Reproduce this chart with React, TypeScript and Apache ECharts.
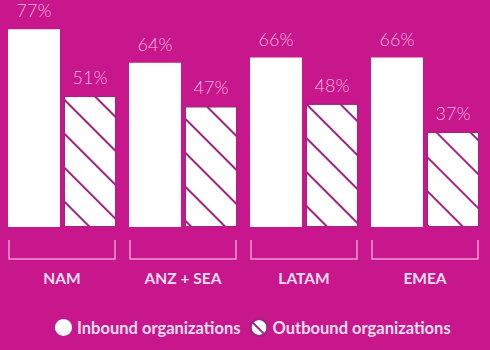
import React, { useEffect, useRef } from "react";
import * as echarts from "echarts";

const categories = ["NAM", "ANZ + SEA", "LATAM", "EMEA"];
const inbound = [77, 64, 66, 66];
const outbound = [51, 47, 48, 37];
const seriesNames = ["Inbound organizations", "Outbound organizations"];

const BG = "#C8168C";
const HATCH = "#A2247E";
const LABEL = "#F6B6DF";
const TEXT = "#FADFF0";

export default function App() {
  const ref = useRef<HTMLDivElement>(null);
  useEffect(() => {
    if (!ref.current) return;
    const chart = echarts.init(ref.current, undefined, { renderer: "svg" });
    const decal = {
      symbol: "rect",
      color: HATCH,
      backgroundColor: "#ffffff",
      dashArrayX: [1, 0],
      dashArrayY: [1.5, 21.5],
      rotation: Math.PI / 4,
      symbolSize: 1,
    };
    const valueLabel = {
      show: true,
      position: "top",
      distance: 10,
      formatter: "{c}%",
      color: LABEL,
      fontFamily: "Lato",
      fontWeight: 300,
      fontSize: 18,
    };
    chart.setOption({
      animation: false,
      backgroundColor: BG,
      grid: { left: 1.5, right: 4.5, top: 1, bottom: 123 },
      legend: {
        data: seriesNames.map((n, i) => ({
          name: n,
          icon: "circle",
          itemStyle: i === 0 ? { color: "#ffffff" } : { color: "#ffffff", decal },
        })),
        bottom: 8,
        left: 50,
        itemWidth: 17,
        itemHeight: 17,
        itemGap: 9,
        textStyle: { color: TEXT, fontFamily: "Lato", fontWeight: "bold", fontSize: 16.5 },
      },
      xAxis: {
        type: "category",
        data: categories,
        axisLine: { show: false },
        axisTick: { show: false },
        axisLabel: {
          color: TEXT,
          fontFamily: "Lato",
          fontWeight: "bold",
          fontSize: 15.5,
          margin: 43,
        },
      },
      yAxis: {
        type: "value",
        min: 0,
        max: 88,
        show: false,
        splitLine: { show: false },
      },
      series: [
        {
          name: seriesNames[0],
          type: "bar",
          data: inbound,
          barWidth: 52,
          barGap: "7.7%",
          itemStyle: { color: "#ffffff" },
          label: valueLabel,
        },
        {
          name: seriesNames[1],
          type: "bar",
          data: outbound,
          barWidth: 52,
          itemStyle: { color: "#ffffff", borderColor: HATCH, borderWidth: 1, decal },
          label: valueLabel,
        },
        {
          type: "custom",
          silent: true,
          clip: false,
          data: categories.map((_, i) => [i, 0]),
          renderItem: (params: any, api: any) => {
            const p = api.coord([api.value(0), 0]);
            const cx = p[0];
            const y0 = p[1];
            const half = 53;
            return {
              type: "polyline",
              shape: {
                points: [
                  [cx - half, y0 + 13],
                  [cx - half, y0 + 32],
                  [cx + half, y0 + 32],
                  [cx + half, y0 + 13],
                ],
              },
              style: { stroke: "#F09AD0", lineWidth: 1.5, fill: null },
            };
          },
        },
      ],
    });
    return () => chart.dispose();
  }, []);
  return (
    <div
      ref={ref}
      style={{ position: "fixed", left: 0, top: 0, width: 490, height: 350 }}
    />
  );
}
